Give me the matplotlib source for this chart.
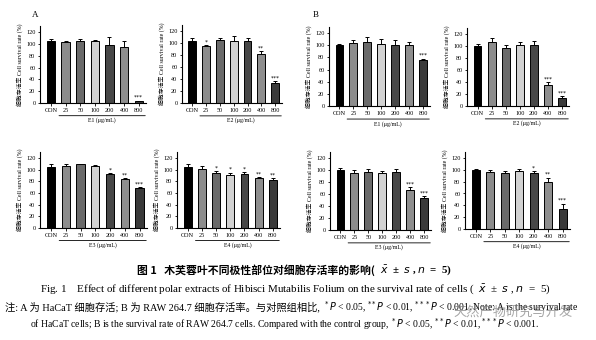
import numpy as np
import matplotlib.pyplot as plt

plt.rcParams['font.family'] = ['Liberation Serif', 'Noto Sans CJK SC', 'DejaVu Sans']

# concentrations on the x axis
doses = ['CON', '25', '50', '100', '200', '400', '800']

# A: HaCaT cells, E1..E4
a_e1 = [104, 103, 105, 105, 98, 94, 3]
a_e1_sd = [5, 2, 4, 1.5, 14, 10, 1]
a_e1_sig = ['', '', '', '', '', '', '***']
a_e2 = [104, 95, 105, 103, 104, 82, 34]
a_e2_sd = [5, 2, 3, 9, 5, 5, 2]
a_e2_sig = ['', '*', '', '', '', '**', '***']
a_e3 = [104, 107, 109, 106, 92, 84, 69]
a_e3_sd = [5, 2, 1, 2, 2, 2, 1]
a_e3_sig = ['', '', '', '', '*', '**', '***']
a_e4 = [104, 101, 94, 91, 92, 86, 83]
a_e4_sd = [5, 5, 4, 4, 4, 2, 3]
a_e4_sig = ['', '', '*', '*', '*', '**', '**']

# B: RAW 264.7 cells, E1..E4
b_e1 = [100, 104, 106, 102, 101, 101, 75]
b_e1_sd = [2, 5, 7, 8, 7, 5, 3]
b_e1_sig = ['', '', '', '', '', '', '***']
b_e2 = [100, 106, 96, 101, 102, 35, 13]
b_e2_sd = [3, 7, 5, 6, 6, 5, 3]
b_e2_sig = ['', '', '', '', '', '***', '***']
b_e3 = [100, 95, 97, 95, 96, 67, 53]
b_e3_sd = [3, 5, 5, 4, 6, 5, 3]
b_e3_sig = ['', '', '', '', '', '***', '***']
b_e4 = [100, 97, 95, 98, 95, 80, 34]
b_e4_sd = [2, 2, 3, 3, 3, 7, 9]
b_e4_sig = ['', '', '', '', '*', '**', '***']

bar_colors = ['#000000', '#8c8c8c', '#6a6a6a', '#d2d2d2', '#474747', '#8e8e8e', '#3a3a3a']

W, H = 596, 340
fig = plt.figure(figsize=(W / 100, H / 100), dpi=100)
renderer = fig.canvas.get_renderer()


def px_axes(left, right, zero_y, y120):
    # axes placed from pixel positions; y range 0..130
    top = zero_y - 130 * (zero_y - y120) / 120
    return fig.add_axes([left / W, 1 - zero_y / H, (right - left) / W, (zero_y - top) / H])


def panel(ax, vals, sds, sigs, xlab):
    x = np.arange(len(doses))
    ax.bar(x, vals, width=0.56, color=bar_colors, edgecolor='black', linewidth=0.7, zorder=2)
    ax.errorbar(x, vals, yerr=[np.zeros(len(sds)), sds], fmt='none', ecolor='black',
                elinewidth=0.7, capsize=1.6, capthick=0.7, zorder=3)
    for xi, v, s, g in zip(x, vals, sds, sigs):
        if g:
            ax.text(xi, v + s + 1, g, ha='center', va='bottom', fontsize=4.3, family='DejaVu Sans')
    ax.set_xlim(-0.75, 6.5)
    ax.set_ylim(0, 130)
    ax.set_yticks(range(0, 121, 20))
    ax.set_xticks(x)
    ax.set_xticklabels(doses)
    ax.tick_params(labelsize=4.4, length=1.8, width=0.6, pad=1.5)
    for side in ['top', 'right']:
        ax.spines[side].set_visible(False)
    for side in ['left', 'bottom']:
        ax.spines[side].set_linewidth(0.8)
    ax.set_ylabel('细胞存活率 Cell survival rate (%)', fontsize=4.2, labelpad=2,
                  family=['Liberation Serif', 'Noto Sans CJK SC'])
    # bracket under the dose labels
    ax.annotate('', xy=(0.55, -0.165), xytext=(6.45, -0.165), xycoords=('data', 'axes fraction'),
                textcoords=('data', 'axes fraction'),
                arrowprops=dict(arrowstyle='-', lw=0.6, color='black', shrinkA=0, shrinkB=0))
    ax.text(3.5, -0.225, xlab, transform=ax.get_xaxis_transform(), ha='center', va='center',
            fontsize=4.2)


panel(px_axes(40, 146, 103, 32), a_e1, a_e1_sd, a_e1_sig, 'E1 (μg/mL)')
panel(px_axes(182, 282, 103, 31), a_e2, a_e2_sd, a_e2_sig, 'E2 (μg/mL)')
panel(px_axes(329, 430, 106, 33), b_e1, b_e1_sd, b_e1_sig, 'E1 (μg/mL)')
panel(px_axes(467, 569, 106, 34), b_e2, b_e2_sd, b_e2_sig, 'E2 (μg/mL)')
panel(px_axes(40, 147, 228, 158), a_e3, a_e3_sd, a_e3_sig, 'E3 (μg/mL)')
panel(px_axes(177, 280, 228, 158), a_e4, a_e4_sd, a_e4_sig, 'E4 (μg/mL)')
panel(px_axes(330, 431, 230, 158), b_e3, b_e3_sd, b_e3_sig, 'E3 (μg/mL)')
panel(px_axes(465, 570, 229, 158), b_e4, b_e4_sd, b_e4_sig, 'E4 (μg/mL)')

fig.text(32 / W, 1 - 15 / H, 'A', fontsize=6.5, ha='left', va='center')
fig.text(313 / W, 1 - 15 / H, 'B', fontsize=6.5, ha='left', va='center')


def pieces(x_px, y_px, parts, **kw):
    # write text pieces one after another along a line
    x = x_px
    for s, fam, size in parts:
        t = fig.text(x / W, 1 - y_px / H, s, ha='left', va='center', fontsize=size,
                     family=fam, **kw)
        x += t.get_window_extent(renderer).width


cjk = ['Noto Sans CJK SC', 'DejaVu Sans']
serif = ['Liberation Serif', 'Noto Sans CJK SC']
stats = '$^*P$ < 0.05, $^{**}P$ < 0.01, $^{***}P$ < 0.001.'

pieces(137, 270, [('图 1   木芙蓉叶不同极性部位对细胞存活率的影响(', cjk, 7.8),
                  ('  $\\bar{x}$  ±  $s$ , $n$  =  5)', ['Liberation Serif'], 7.8)],
       fontweight='bold')
pieces(40, 289, [('Fig. 1    Effect of different polar extracts of Hibisci Mutabilis Folium '
                  'on the survival rate of cells (  $\\bar{x}$  ±  $s$ , $n$  =  5)',
                  ['Liberation Serif'], 7.9)])
pieces(5, 307, [('注: A 为 HaCaT 细胞存活; B 为 RAW 264.7 细胞存活率。与对照组相比, ', serif, 7.4),
                (stats + ' Note: A is the survival rate', ['Liberation Serif'], 6.9)])
pieces(30, 324, [('of HaCaT cells; B is the survival rate of RAW 264.7 cells. '
                  'Compared with the control group, ' + stats, ['Liberation Serif'], 6.9)])
fig.text(453 / W, 1 - 312 / H, '天然产物研究与开发', ha='left', va='center', fontsize=9.5,
         color='#808080', alpha=0.7, family=cjk)

fig.savefig('out.png', dpi=100)
